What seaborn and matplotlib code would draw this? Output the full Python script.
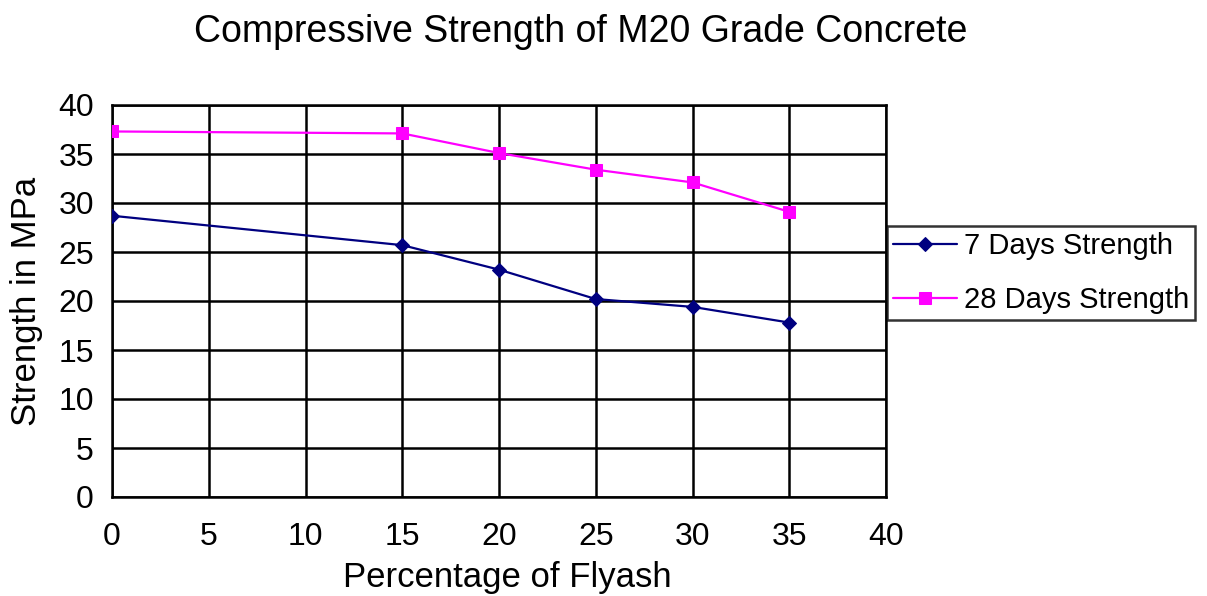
import matplotlib
matplotlib.use("Agg")
import matplotlib.pyplot as plt
import seaborn as sns
import pandas as pd

flyash = [0, 15, 20, 25, 30, 35]
strength_7 = [28.7, 25.7, 23.2, 20.2, 19.4, 17.8]
strength_28 = [37.3, 37.1, 35.1, 33.4, 32.1, 29.1]
series_names = ["7 Days Strength", "28 Days Strength"]
x_ticks = [0, 5, 10, 15, 20, 25, 30, 35, 40]
y_ticks = [0, 5, 10, 15, 20, 25, 30, 35, 40]

sns.set_theme(style="white")
plt.rcParams['font.family'] = ['Liberation Sans', 'DejaVu Sans']

df = pd.DataFrame({
    "Flyash": flyash * 2,
    "Strength": strength_7 + strength_28,
    "Series": [series_names[0]] * len(flyash) + [series_names[1]] * len(flyash),
})

fig = plt.figure(figsize=(12.07, 5.96), dpi=100)
ax = fig.add_axes([112/1207, 1 - 497/596, (886-112)/1207, (497-105)/596])

palette = {series_names[0]: "#000080", series_names[1]: "#FF00FF"}
markers = {series_names[0]: "D", series_names[1]: "s"}
for name in series_names:
    sub = df[df["Series"] == name]
    sns.lineplot(data=sub, x="Flyash", y="Strength", ax=ax, color=palette[name],
                 marker=markers[name], markersize=8 if name == series_names[1] else 7,
                 markeredgecolor=palette[name], linewidth=1.6, label=name, zorder=3)

ax.set_xlim(0, 40)
ax.set_ylim(0, 40)
ax.set_xticks(x_ticks)
ax.set_yticks(y_ticks)
ax.grid(True, color="black", linewidth=1.8)
ax.set_axisbelow(True)
for s in ax.spines.values():
    s.set_color("black")
    s.set_linewidth(1.8)
ax.tick_params(axis="both", which="major", direction="out", length=6, width=1.5,
               color="black", labelsize=23, labelcolor="black", pad=7)
ax.tick_params(axis="x", pad=12)
ax.set_xlabel("")
ax.set_ylabel("")

fig.text(507/1207, 1 - 578/596, "Percentage of Flyash", ha="center", va="center",
         fontsize=25, color="black")
fig.text(27/1207, 1 - 301/596, "Strength in MPa", ha="center", va="center",
         rotation=90, fontsize=25, color="black")
fig.text(581/1207, 1 - 32/596, "Compressive Strength of M20 Grade Concrete",
         ha="center", va="center", fontsize=27, color="black")

leg = ax.legend(loc="center left", bbox_to_anchor=(887/1207, 1 - 273/596),
                bbox_transform=fig.transFigure, frameon=True, fancybox=False,
                fontsize=21, handlelength=2.2, handletextpad=0.25,
                borderpad=0.2, labelspacing=0.9, borderaxespad=0)
leg.get_frame().set_edgecolor("black")
leg.get_frame().set_linewidth(1.8)
for t in leg.get_texts():
    t.set_color("black")

fig.savefig("out.png", dpi=100)
